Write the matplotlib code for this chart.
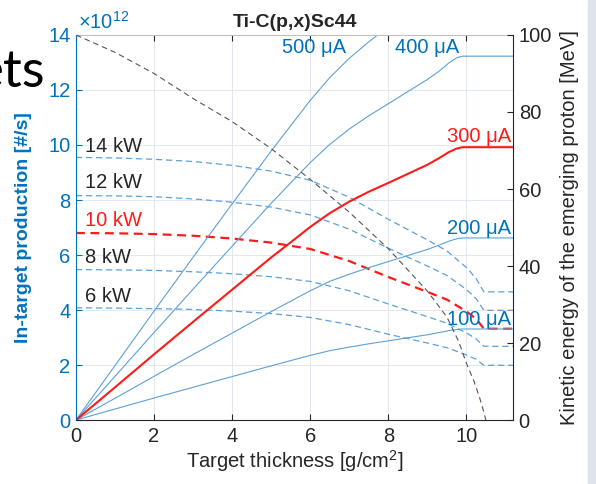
import matplotlib
matplotlib.use("Agg")
import matplotlib.pyplot as plt
from matplotlib.patches import Rectangle

plt.rcParams['font.family'] = ['Liberation Sans', 'DejaVu Sans']
plt.rcParams['mathtext.fontset'] = 'custom'
plt.rcParams['mathtext.rm'] = 'Liberation Sans'
plt.rcParams['mathtext.it'] = 'Liberation Sans:italic'
plt.rcParams['mathtext.bf'] = 'Liberation Sans:bold'

# production curves (units of 1e12 #/s) vs target thickness (g/cm2)
thick = [0, 1, 2, 3, 4, 5, 5.5, 6, 6.5, 7, 7.5, 8, 8.5, 9, 9.3, 9.55, 9.75, 9.9, 11.2]
p100 = [0, 0.40, 0.80, 1.19, 1.58, 1.97, 2.16, 2.35, 2.52, 2.65, 2.77, 2.88, 2.99, 3.10, 3.18, 3.25, 3.29, 3.31, 3.31]
p200 = [0, 0.79, 1.59, 2.38, 3.16, 3.94, 4.32, 4.70, 5.04, 5.30, 5.54, 5.76, 5.98, 6.20, 6.36, 6.50, 6.59, 6.62, 6.62]
p300 = [0, 1.19, 2.39, 3.57, 4.74, 5.91, 6.46, 7.02, 7.52, 7.94, 8.30, 8.62, 8.95, 9.28, 9.52, 9.74, 9.87, 9.92, 9.92]
p400 = [0, 1.59, 3.18, 4.76, 6.32, 7.88, 8.62, 9.36, 10.02, 10.58, 11.06, 11.50, 11.94, 12.38, 12.68, 12.98, 13.17, 13.23, 13.23]
p500 = [0, 1.98, 3.96, 5.92, 7.86, 9.78, 10.70, 11.62, 12.45, 13.15, 13.75, 14.30, 14.90, 15.50, 15.90, 16.22, 16.46, 16.54, 16.54]

# constant beam power curves
thick_kw = [0, 1, 2, 3, 4, 5, 6, 7, 8, 9, 9.5, 10, 10.25, 10.45, 11.2]
kw14 = [9.55, 9.53, 9.48, 9.40, 9.26, 9.05, 8.72, 8.10, 7.30, 6.55, 6.15, 5.55, 5.15, 4.66, 4.66]
kw12 = [8.16, 8.15, 8.12, 8.04, 7.92, 7.74, 7.46, 6.94, 6.25, 5.60, 5.26, 4.75, 4.42, 3.99, 3.99]
kw10 = [6.80, 6.79, 6.76, 6.70, 6.60, 6.45, 6.22, 5.78, 5.20, 4.66, 4.38, 3.95, 3.68, 3.32, 3.32]
kw8 = [5.47, 5.46, 5.44, 5.39, 5.32, 5.21, 5.04, 4.70, 4.22, 3.76, 3.52, 3.17, 2.95, 2.68, 2.68]
kw6 = [4.08, 4.07, 4.05, 4.02, 3.96, 3.87, 3.73, 3.47, 3.12, 2.80, 2.63, 2.37, 2.21, 1.99, 1.99]

# kinetic energy of emerging proton (MeV)
thick_e = [0, 1, 2, 3, 4, 5, 6, 7, 8, 8.5, 9, 9.5, 9.8, 10, 10.2, 10.35, 10.45, 10.5]
energy = [100, 95.5, 90, 83.5, 77.5, 70.5, 62.5, 54, 44.5, 39, 33.5, 26.8, 20.5, 14.8, 10, 5.5, 2, 0]

blue = '#0072BD'
lblue = '#5DA0D8'
red = '#FF1A1A'
dark = '#262626'
fs = 14.5

fig = plt.figure(figsize=(5.96, 4.84), dpi=100)
ax = fig.add_axes([0.1275, 0.1322, 0.7335, 0.7955])
ax2 = ax.twinx()

ax.set_axisbelow(True)
ax.grid(True, color='#e2e8ef', lw=0.7)

for vals in [kw14, kw12, kw8, kw6]:
    ax.plot(thick_kw, vals, color=lblue, lw=0.9, dashes=(5, 3))
ax.plot(thick_kw, kw10, color=red, lw=1.6, dashes=(4, 2.5))

for vals in [p100, p200, p400, p500]:
    ax.plot(thick, vals, color=lblue, lw=0.8)
ax.plot(thick, p300, color=red, lw=1.5)

ax2.plot(thick_e, energy, color='#555555', lw=0.8, dashes=(5, 3.5))

ax.set_xlim(0, 11.2)
ax.set_ylim(0, 14)
ax2.set_ylim(0, 100)
ax.set_xticks([0, 2, 4, 6, 8, 10])
ax.set_yticks(range(0, 15, 2))
ax2.set_yticks(range(0, 101, 20))

ax.tick_params(axis='x', direction='in', length=4, top=True, labelsize=fs, colors=dark, pad=5)
ax.tick_params(axis='y', direction='in', length=4, labelsize=fs, colors=blue, labelcolor=blue, pad=4)
ax2.tick_params(axis='y', direction='in', length=4, labelsize=fs, colors=dark, pad=4)

ax.spines['left'].set_color(blue)
ax.spines['bottom'].set_color(dark)
ax.spines['top'].set_color('#c0c0c0')
ax.spines['right'].set_visible(False)
ax2.spines['left'].set_visible(False)
ax2.spines['top'].set_visible(False)
ax2.spines['bottom'].set_visible(False)
ax2.spines['right'].set_color(dark)

ax.set_title('Ti-C(p,x)Sc44', fontsize=14, fontweight='bold', color=dark, pad=6)
ax.set_xlabel(r'Target thickness [g/cm$^2$]', fontsize=fs, color=dark)
ax.xaxis.set_label_coords(0.5, -0.072)
ax.set_ylabel('In-target production [#/s]', fontsize=14, fontweight='bold', color=blue)
ax.yaxis.set_label_coords(-0.10, 0.5)
ax2.set_ylabel('Kinetic energy of the emerging proton [MeV]', fontsize=fs, color=dark)
ax2.yaxis.set_label_coords(1.108, 0.5)

ax.text(0.004, 1.005, r'$\mathregular{\times10^{12}}$', transform=ax.transAxes,
        fontsize=fs, color=blue, ha='left', va='bottom')

# current labels
ax.text(6.1, 13.55, '500 μA', color=blue, fontsize=fs, ha='center', va='center')
ax.text(9.0, 13.55, '400 μA', color=blue, fontsize=fs, ha='center', va='center')
ax.text(11.15, 10.3, '300 μA', color=red, fontsize=fs, ha='right', va='center')
ax.text(11.15, 6.95, '200 μA', color=blue, fontsize=fs, ha='right', va='center')
ax.text(11.15, 3.67, '100 μA', color=blue, fontsize=fs, ha='right', va='center')

# power labels
ax.text(0.22, 9.96, '14 kW', color=dark, fontsize=fs, ha='left', va='center')
ax.text(0.22, 8.62, '12 kW', color=dark, fontsize=fs, ha='left', va='center')
ax.text(0.22, 7.24, '10 kW', color=red, fontsize=fs, ha='left', va='center')
ax.text(0.22, 5.90, '8 kW', color=dark, fontsize=fs, ha='left', va='center')
ax.text(0.22, 4.50, '6 kW', color=dark, fontsize=fs, ha='left', va='center')

# slide leftovers around the pasted chart
fig.text(45 / 596, 1 - 87 / 484, 'ets', fontsize=38, family='Lato',
         color='black', ha='right', va='baseline')
fig.patches.append(Rectangle((588 / 596, 0), 8 / 596, 1, transform=fig.transFigure,
                             color='#dfe4ea', zorder=0))

fig.savefig('out.png', dpi=100)
